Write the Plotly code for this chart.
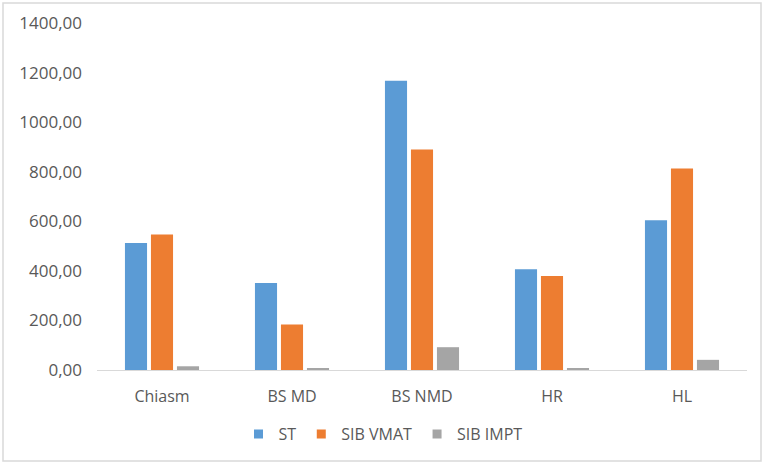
import plotly.graph_objects as go

categories = ["Chiasm", "BS MD", "BS NMD", "HR", "HL"]
st = [512, 351, 1167, 406, 604]
sib_vmat = [547, 184, 890, 379, 813]
sib_impt = [15, 5, 92, 5, 41]

series = [
    ("ST", st, "#5B9BD5"),
    ("SIB VMAT", sib_vmat, "#ED7D31"),
    ("SIB IMPT", sib_impt, "#A5A5A5"),
]

fig = go.Figure()
for name, vals, col in series:
    fig.add_trace(go.Bar(x=categories, y=vals, name=name, marker_color=col,
                         marker_line_width=0, showlegend=False))
# small square legend keys, like the Excel original
for name, vals, col in series:
    fig.add_trace(go.Scatter(x=[None], y=[None], mode="markers", name=name,
                             marker=dict(symbol="square", size=9, color=col)))

W, H = 765, 465
ml, mr, mt, mb = 97, 18, 23, 95

fig.update_layout(
    width=W, height=H,
    margin=dict(l=ml, r=mr, t=mt, b=mb),
    paper_bgcolor="white", plot_bgcolor="white",
    font=dict(family="Open Sans", size=16, color="#595959"),
    separators=", ",
    barmode="group", bargap=0.4, bargroupgap=0.15,
    showlegend=True,
    legend=dict(orientation="h", x=0.44, xanchor="center", y=-0.185, yanchor="middle",
                font=dict(size=16, color="#595959"), itemwidth=30,
                traceorder="normal"),
)
fig.update_yaxes(range=[0, 1400], dtick=200, tickformat=".2f", showgrid=False,
                 zeroline=False, showline=False, ticks="", ticklabelstandoff=14,
                 tickfont=dict(size=17))
fig.update_xaxes(showline=True, linecolor="#D9D9D9", linewidth=1, ticks="",
                 showgrid=False, ticklabelstandoff=12)

# outer chart frame
pw = W - ml - mr
ph = H - mt - mb
fig.add_shape(type="rect", xref="paper", yref="paper",
              x0=(3 - ml) / pw, x1=(761 - ml) / pw,
              y0=(H - mb - 461) / ph, y1=(H - mb - 3) / ph,
              line=dict(color="#D9D9D9", width=1.5), fillcolor="rgba(0,0,0,0)")

fig.write_html("out.html", config={"displayModeBar": False},
               post_script="document.body.style.margin='0';")
